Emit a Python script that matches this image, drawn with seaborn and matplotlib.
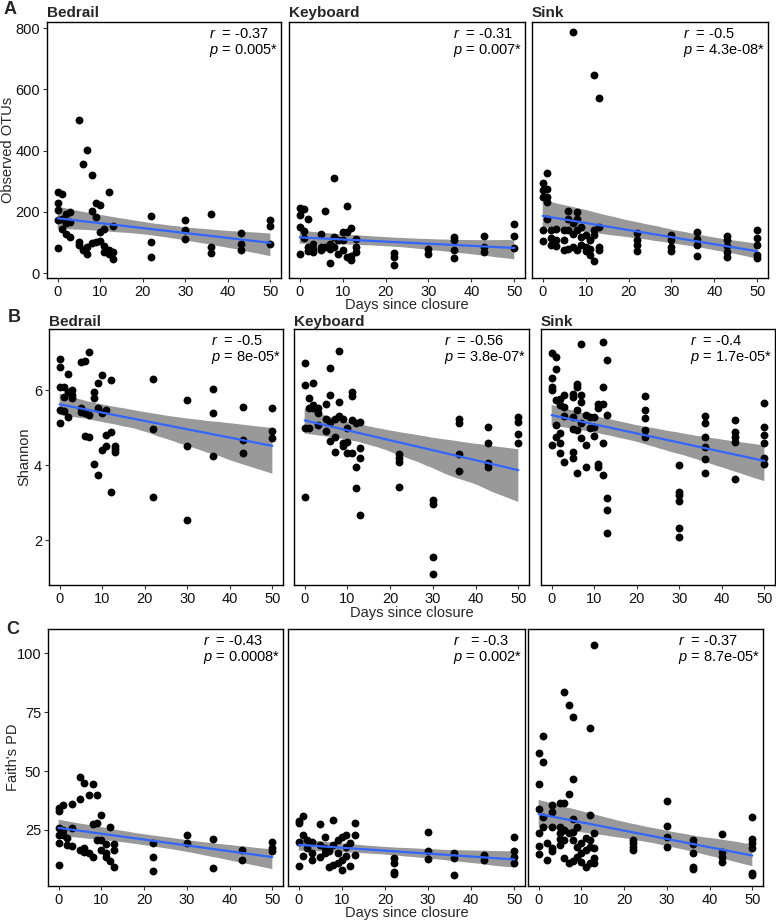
import numpy as np
import pandas as pd
import matplotlib
matplotlib.use("Agg")
import matplotlib.pyplot as plt
import seaborn as sns
from matplotlib.collections import PolyCollection

# ---------------- data ----------------
surfaces = ["Bedrail", "Keyboard", "Sink"]
metrics = ["Observed OTUs", "Shannon", "Faith's PD"]
panel_letters = ["A", "B", "C"]
x_ticks = [0, 10, 20, 30, 40, 50]
otu_ticks = [0, 200, 400, 600, 800]
shannon_ticks = [2, 4, 6]
faith_ticks = [25, 50, 75, 100]

otu_bedrail_x = [0,1,0,0,0,0,1,1,2,2,3,3,3,2,5,5,5,6,6,7,7,7,8,8,9,9,9,10,10,10,11,11,11,12,12,13,13,13,12,8,
                 22,22,22,30,30,30,36,36,36,43,43,43,50,50,50]
otu_bedrail_y = [265,258,229,205,172,81,178,145,194,129,167,200,118,162,500,101,91,355,74,402,63,85,320,203,
                 229,183,101,221,134,105,145,87,69,265,63,154,69,47,74,98,
                 186,101,52,172,140,112,194,85,65,131,96,76,172,153,94]

otu_keyboard_x = [0,0,0,0,1,1,1,2,2,2,3,3,3,5,5,5,6,6,7,7,7,8,8,8,9,9,10,10,10,11,11,11,12,12,12,13,13,13,
                  22,22,22,30,30,36,36,36,36,43,43,43,50,50,50]
otu_keyboard_y = [214,189,151,61,208,138,116,176,85,72,96,80,69,129,85,74,203,85,96,80,34,312,118,85,107,63,
                  134,107,74,218,134,52,148,55,44,112,85,69,
                  67,52,27,80,63,118,107,74,50,122,85,68,161,122,83]

otu_sink_x = [7,12,13,1,0,1,0,0,1,1,1,0,0,2,2,2,3,3,3,5,5,5,6,6,6,6,7,7,7,8,8,8,8,9,9,9,10,10,10,11,11,11,
              12,12,12,13,13,13,22,22,22,22,30,30,30,30,36,36,36,36,43,43,43,43,43,50,50,50,50,50]
otu_sink_y = [786,648,573,327,295,276,271,249,249,232,178,142,105,142,116,91,145,107,87,140,107,76,
              203,178,140,80,162,129,85,200,178,140,74,151,118,91,123,85,72,107,80,58,140,123,39,151,85,74,
              131,107,91,72,123,107,85,72,134,112,91,55,122,107,87,69,52,140,116,91,58,50]

shannon_bedrail_x = [0,0,0,0,0,1,1,1,2,2,2,3,3,3,5,5,5,6,6,6,7,7,7,8,8,8,9,9,9,10,10,10,11,11,11,12,12,12,
                     13,13,13,22,22,22,30,30,30,36,36,36,43,43,43,50,50,50]
shannon_bedrail_y = [6.84,6.62,6.07,5.47,5.11,6.09,5.82,5.45,6.42,5.96,5.27,6.00,5.87,5.78,6.76,5.51,5.42,
                     6.77,5.38,4.77,7.01,5.33,4.76,5.96,5.78,4.04,6.18,5.51,3.73,6.40,5.38,4.40,5.47,4.80,4.52,
                     6.27,4.89,3.27,4.52,4.44,4.36,6.29,4.96,3.14,5.73,4.52,2.53,6.04,5.38,4.25,5.56,4.68,4.31,
                     5.52,4.91,4.71]

shannon_keyboard_x = [0,0,0,0,1,1,1,2,2,2,3,3,3,5,5,5,6,6,6,6,7,7,7,8,8,8,9,9,9,10,10,10,11,11,11,11,
                      12,12,12,13,13,13,13,22,22,22,22,30,30,30,30,36,36,36,36,43,43,43,43,50,50,50,50]
shannon_keyboard_y = [6.71,6.13,4.99,3.16,5.78,5.53,4.99,6.20,5.60,5.51,5.53,5.38,5.07,5.63,5.24,4.91,
                      6.60,5.88,5.16,4.65,5.24,4.76,4.35,7.04,5.69,5.31,5.22,4.58,4.52,4.98,4.62,4.31,
                      5.96,5.84,5.20,4.31,5.13,3.94,3.40,5.16,4.46,4.20,2.68,4.29,4.18,4.09,3.42,
                      3.07,2.96,1.54,1.09,5.22,5.13,4.29,3.84,5.02,4.60,4.06,3.94,5.29,5.16,4.83,4.60]

shannon_sink_x = [0,0,0,0,0,1,1,1,1,1,2,2,2,2,2,3,3,3,3,5,5,5,5,5,5,6,6,6,6,6,7,7,7,7,7,8,8,8,9,9,
                  10,10,10,11,11,11,11,12,12,12,12,12,13,13,13,13,13,22,22,22,22,22,
                  30,30,30,30,30,30,36,36,36,36,36,36,43,43,43,43,43,50,50,50,50,50,50]
shannon_sink_y = [7.00,6.31,6.09,6.00,4.53, 6.89,6.55,5.73,5.08,4.76, 5.75,5.60,4.86,4.58,4.31,
                  5.87,5.56,5.32,4.07, 5.89,5.82,5.27,4.95,4.36,4.20, 6.16,6.09,5.48,4.93,3.78,
                  7.23,5.87,5.69,5.11,4.73, 5.33,4.53,3.96, 5.29,4.98, 5.27,5.02,4.77,
                  5.64,5.51,4.04,3.96, 7.27,6.09,5.63,4.60,3.74, 6.80,5.33,3.11,2.80,2.18,
                  5.85,5.47,5.26,4.93,4.76, 3.99,3.29,3.20,3.04,2.31,2.07,
                  5.31,5.11,4.76,4.49,4.16,3.80, 5.20,4.89,4.76,4.62,3.62, 5.66,5.02,4.80,4.60,4.18,4.04]

faith_bedrail_x = [0,0,0,0,0,0,1,1,1,2,2,3,3,3,5,5,5,6,6,6,7,7,8,8,8,9,9,9,10,10,10,11,11,11,12,12,
                   13,13,13,22,22,22,30,30,36,36,43,43,50,50,50]
faith_bedrail_y = [34.2,33.2,26.0,22.9,19.3,10.1, 35.6,25.0,22.9, 21.5,18.6, 35.9,26.0,18.2,
                   47.6,38.0,16.5, 44.8,17.2,15.8, 39.9,15.1, 44.5,27.4,13.3, 39.9,27.8,20.8,
                   31.4,20.8,16.5, 18.9,15.1,13.7, 26.4,11.8, 18.9,16.5,9.2, 19.3,13.4,7.7,
                   22.9,19.3, 21.3,9.0, 16.5,12.3, 20.0,17.5,16.2]

faith_keyboard_x = [0,0,0,0,1,1,1,2,2,3,3,3,5,5,5,6,6,6,7,7,8,8,8,9,9,9,10,10,10,11,11,11,12,12,
                    13,13,13,22,22,22,22,30,30,30,36,36,36,43,43,50,50,50,50]
faith_keyboard_y = [29.0,27.8,19.8,9.7, 31.1,22.9,14.0, 20.8,17.2, 20.0,15.1,12.3, 27.5,18.6,13.3,
                    22.2,17.2,15.1, 16.2,9.4, 29.2,18.6,10.1, 20.8,15.1,10.9, 22.2,12.3,8.0,
                    22.9,17.9,14.0, 19.3,9.7, 27.8,22.9,14.4, 13.0,10.8,7.3,6.3,
                    24.3,16.2,12.5, 15.4,13.0,6.0, 14.4,12.3, 22.2,16.2,13.7,10.8]

faith_sink_x = [0,0,0,0,0,0,1,1,1,1,2,2,3,3,3,3,3,5,5,5,5,5,6,6,6,6,6,7,7,7,7,8,8,8,8,8,8,
                9,9,9,10,10,10,11,11,11,12,12,12,12,12,13,13,13,13,13,22,22,22,22,
                30,30,30,30,36,36,36,36,36,43,43,43,43,50,50,50,50,50,50]
faith_sink_y = [57.8,44.5,33.9,23.6,18.2,14.7, 64.9,53.7,30.7,26.4, 19.3,12.3,
                35.5,32.6,26.4,17.2,16.2, 36.5,26.4,23.6,21.0,18.5, 83.4,36.5,25.0,20.8,13.0,
                78.2,40.3,23.6,10.8, 72.8,46.5,29.7,24.3,20.8,11.8, 26.4,17.9,13.7,
                19.3,15.1,11.6, 21.5,16.5,9.4, 68.2,31.4,20.8,17.9,10.8, 103.5,23.6,17.2,13.0,10.8,
                20.8,19.3,17.9,16.5, 37.3,26.7,21.9,17.6, 20.8,19.1,15.1,9.4,8.3,
                23.2,15.8,13.7,11.6, 30.7,21.0,19.3,17.2,6.9,5.9]

otu_stats = ["$r$  = -0.37\n$p$ = 0.005*", "$r$  = -0.31\n$p$ = 0.007*", "$r$  = -0.5\n$p$ = 4.3e-08*"]
shannon_stats = ["$r$  = -0.5\n$p$ = 8e-05*", "$r$  = -0.56\n$p$ = 3.8e-07*", "$r$  = -0.4\n$p$ = 1.7e-05*"]
faith_stats = ["$r$  = -0.43\n$p$ = 0.0008*", "$r$   = -0.3\n$p$ = 0.002*", "$r$  = -0.37\n$p$ = 8.7e-05*"]

# ---------------- style ----------------
sns.set_theme(style="white")
plt.rcParams['font.family'] = ['Liberation Sans', 'DejaVu Sans']
plt.rcParams['mathtext.fontset'] = 'custom'
plt.rcParams['mathtext.rm'] = 'Liberation Sans'
plt.rcParams['mathtext.it'] = 'Liberation Sans:italic'

W, H = 776, 921
fig = plt.figure(figsize=(W / 100, H / 100), dpi=100)


def rect(l, r, t, b):
    return [l / W, 1 - b / H, (r - l) / W, (b - t) / H]


rows = [
    dict(data=[(otu_bedrail_x, otu_bedrail_y), (otu_keyboard_x, otu_keyboard_y), (otu_sink_x, otu_sink_y)],
         stats=otu_stats, ticks=otu_ticks, ylim=(-16, 820), top=22, bottom=278,
         cols=[(47, 281), (289, 525), (532, 768)], strips=True, strip_y=13,
         ylab_x=8, letter_xy=(10, 9), xlab_y=305),
    dict(data=[(shannon_bedrail_x, shannon_bedrail_y), (shannon_keyboard_x, shannon_keyboard_y),
               (shannon_sink_x, shannon_sink_y)],
         stats=shannon_stats, ticks=shannon_ticks, ylim=(0.8, 7.63), top=329, bottom=585,
         cols=[(49, 283), (294, 529), (541, 775)], strips=True, strip_y=322,
         ylab_x=24, letter_xy=(14, 317), xlab_y=613),
    dict(data=[(faith_bedrail_x, faith_bedrail_y), (faith_keyboard_x, faith_keyboard_y),
               (faith_sink_x, faith_sink_y)],
         stats=faith_stats, ticks=faith_ticks, ylim=(1.2, 110.3), top=629, bottom=886,
         cols=[(48, 283), (288, 525), (528, 763)], strips=False, strip_y=None,
         ylab_x=13, letter_xy=(13, 629), xlab_y=913),
]

for ri, row in enumerate(rows):
    for ci, ((xs, ys), (l, r)) in enumerate(zip(row["data"], row["cols"])):
        ax = fig.add_axes(rect(l, r, row["top"], row["bottom"]))
        df = pd.DataFrame({"days": xs, "value": ys})
        sns.regplot(data=df, x="days", y="value", ax=ax, ci=95, n_boot=1000, seed=3,
                    color="black",
                    scatter_kws=dict(s=32, color="black", alpha=1, linewidths=0, zorder=3),
                    line_kws=dict(color="#3366FF", lw=1.6, zorder=4))
        for c in ax.collections:
            if isinstance(c, PolyCollection):
                c.set_facecolor("#999999")
                c.set_edgecolor("none")
                c.set_alpha(1)
                c.set_zorder(2)
        ax.set_xlim(-2.5, 52.5)
        ax.set_ylim(*row["ylim"])
        ax.set_xticks(x_ticks)
        ax.set_yticks(row["ticks"])
        ax.set_xlabel("")
        ax.set_ylabel("")
        ax.tick_params(axis="both", direction="out", length=3, width=0.8, color="#333333",
                       labelsize=10.5, labelcolor="#111111", pad=2,
                       bottom=True, left=(ci == 0))
        if ci != 0:
            ax.set_yticklabels([])
        for sp in ax.spines.values():
            sp.set_color("black")
            sp.set_linewidth(1.0)
        ax.grid(False)
        ax.text(0.99, 0.982, row["stats"][ci], transform=ax.transAxes, ha="right", va="top",
                multialignment="left", fontsize=10.5, color="black", linespacing=1.1)
        if row["strips"]:
            fig.text(l / W, 1 - row["strip_y"] / H, surfaces[ci], ha="left", va="center",
                     fontsize=11, fontweight="bold")
    # y label
    fig.text(row["ylab_x"] / W, 1 - (row["top"] + row["bottom"]) / 2 / H, metrics[ri],
             rotation=90, ha="center", va="center", fontsize=10.5)
    # x label under middle column
    mid = (row["cols"][1][0] + row["cols"][1][1]) / 2
    fig.text(mid / W, 1 - row["xlab_y"] / H, "Days since closure", ha="center", va="center",
             fontsize=10.5)
    # panel letter
    lx, ly = row["letter_xy"]
    fig.text(lx / W, 1 - ly / H, panel_letters[ri], ha="center", va="center",
             fontsize=13, fontweight="bold")

fig.savefig("out.png", dpi=100)
